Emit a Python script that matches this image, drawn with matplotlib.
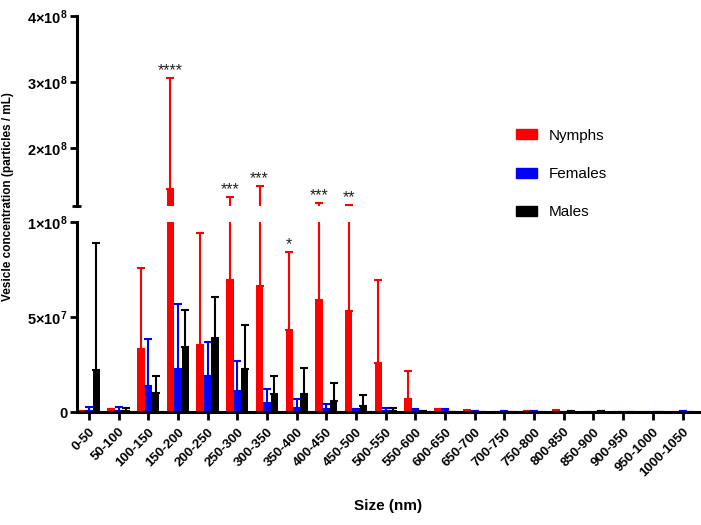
import numpy as np
import matplotlib
matplotlib.use("Agg")
import matplotlib.pyplot as plt
from matplotlib.patches import Patch

plt.rcParams['font.family'] = ['Liberation Sans', 'DejaVu Sans']
plt.rcParams['mathtext.fontset'] = 'custom'
plt.rcParams['mathtext.rm'] = 'Liberation Sans'
plt.rcParams['mathtext.bf'] = 'Liberation Sans:bold'

sizes = ['0-50', '50-100', '100-150', '150-200', '200-250', '250-300', '300-350',
         '350-400', '400-450', '450-500', '500-550', '550-600', '600-650', '650-700',
         '700-750', '750-800', '800-850', '850-900', '900-950', '950-1000', '1000-1050']

# mean and upper error (SD) per size bin
nymphs = [0.3e6, 1.4e6, 3.3e7, 1.38e8, 3.54e7, 6.95e7, 6.63e7, 4.3e7, 5.91e7, 5.32e7,
          2.58e7, 6.8e6, 0.8e6, 0.7e6, 0, 0.5e6, 0.6e6, 0.1e6, 0, 0, 0]
nymphs_sd = [0.2e6, 0.3e6, 4.28e7, 1.67e8, 5.9e7, 5.63e7, 7.61e7, 4.14e7, 5.69e7, 5.93e7,
             4.35e7, 1.46e7, 1.0e6, 0.3e6, 0, 0.3e6, 0.3e6, 0, 0, 0, 0]

females = [0.5e6, 0.5e6, 1.37e7, 2.25e7, 1.88e7, 1.1e7, 4.9e6, 2.3e6, 1.5e6, 0.7e6,
           0.5e6, 0.5e6, 0.3e6, 0.3e6, 0.3e6, 0.3e6, 0, 0, 0, 0, 0.3e6]
females_sd = [2.3e6, 2.3e6, 2.46e7, 3.42e7, 1.82e7, 1.58e7, 7.4e6, 4.7e6, 2.5e6, 1.0e6,
              1.8e6, 1.0e6, 1.2e6, 0.2e6, 0.2e6, 0.2e6, 0, 0, 0, 0, 0.2e6]

males = [2.2e7, 0.3e6, 1.02e7, 3.4e7, 3.89e7, 2.28e7, 9.5e6, 9.5e6, 6e6, 3e6,
         0.3e6, 0.3e6, 0.2e6, 0.1e6, 0, 0.1e6, 0.3e6, 0.3e6, 0, 0, 0]
males_sd = [6.71e7, 1.6e6, 8.6e6, 1.97e7, 2.16e7, 2.3e7, 9.6e6, 1.37e7, 9.4e6, 6.1e6,
            2.0e6, 0.3e6, 0, 0, 0, 0, 0, 0, 0, 0, 0]

stars = {3: '****', 5: '***', 6: '***', 7: '*', 8: '***', 9: '**'}

series = [('Nymphs', nymphs, nymphs_sd, '#ff0000'),
          ('Females', females, females_sd, '#0000ff'),
          ('Males', males, males_sd, '#000000')]

fig = plt.figure(figsize=(7.01, 5.25), dpi=100)
ax_lo = fig.add_axes([0.1098, 0.2152, 0.888, 0.3619])
ax_hi = fig.add_axes([0.1098, 0.6067, 0.888, 0.3633])

x = np.arange(len(sizes))
w = 0.25
offs = [-w, 0, w]

for ax in (ax_lo, ax_hi):
    for (name, vals, sd, col), off in zip(series, offs):
        ax.bar(x + off, vals, w, color=col, label=name,
               yerr=[np.zeros(len(vals)), sd],
               error_kw=dict(ecolor=col, elinewidth=1.5, capsize=3, capthick=1.5))
    ax.set_xlim(-0.4, 20.57)
    for s in ['top', 'right']:
        ax.spines[s].set_visible(False)
    ax.spines['left'].set_linewidth(2.2)
    ax.tick_params(axis='y', length=5, width=2, labelsize=10.5, pad=2)

ax_lo.set_ylim(0, 1e8)
ax_lo.set_yticks([0, 5e7, 1e8])
ax_lo.set_yticklabels(['0', r'$\mathbf{5{\times}10^{7}}$', r'$\mathbf{1{\times}10^{8}}$'])
ax_lo.spines['bottom'].set_linewidth(2.2)
ax_lo.set_xticks(x)
ax_lo.set_xticklabels(sizes, rotation=45, ha='right', rotation_mode='anchor',
                      fontsize=9.5, fontweight='bold')
ax_lo.tick_params(axis='x', length=6, width=2, pad=4)
for lab in ax_lo.get_yticklabels():
    lab.set_fontweight('bold')

ax_hi.set_ylim(1.11e8, 4e8)
ax_hi.set_yticks([2e8, 3e8, 4e8])
ax_hi.set_yticklabels([r'$\mathbf{2{\times}10^{8}}$', r'$\mathbf{3{\times}10^{8}}$',
                       r'$\mathbf{4{\times}10^{8}}$'])
ax_hi.spines['bottom'].set_visible(False)
ax_hi.set_xticks([])
ax_hi.plot([-0.0072, 0.0072], [0, 0], transform=ax_hi.transAxes, color='k',
           lw=2, clip_on=False, solid_capstyle='butt')

# significance stars above the nymph error bars
for i, st in stars.items():
    top = nymphs[i] + nymphs_sd[i]
    ax = ax_lo if top < 1e8 else ax_hi
    ax.annotate(st, (x[i] - w, max(top, 1.11e8) if ax is ax_hi else top),
                xytext=(0, 0), textcoords='offset points', ha='center', va='bottom',
                fontsize=11.5, color='#222222')

ax_lo.set_xlabel('Size (nm)', fontsize=11, fontweight='bold', labelpad=14)
fig.text(0.011, 0.625, 'Vesicle concentration (particles / mL)', rotation=90,
         ha='center', va='center', fontsize=8.5, fontweight='bold')

handles = [Patch(color=c) for _, _, _, c in series]
fig.legend(handles, [s[0] for s in series], loc='center left',
           bbox_to_anchor=(0.736, 0.6686), frameon=False, fontsize=11,
           borderpad=0, borderaxespad=0, labelspacing=1.6, handlelength=1.37,
           handleheight=0.65, handletextpad=0.8)

fig.savefig('out.png', dpi=100)
